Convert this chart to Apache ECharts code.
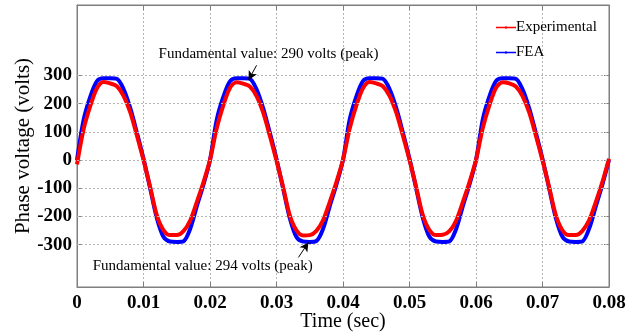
<!DOCTYPE html>
<html><head><meta charset="utf-8">
<script src="https://cdn.jsdelivr.net/npm/echarts@6/dist/echarts.min.js"></script>
<style>html,body{margin:0;padding:0;background:#fff}#c{width:640px;height:334px}</style>
</head><body><div id="c"></div>
<script>
const timeSec = [0,0.001,0.002,0.003,0.004,0.005,0.006,0.007,0.008,0.009,
0.010,0.011,0.012,0.013,0.014,0.015,0.016,0.017,0.018,0.019,
0.020,0.021,0.022,0.023,0.024,0.025,0.026,0.027,0.028,0.029,
0.030,0.031,0.032,0.033,0.034,0.035,0.036,0.037,0.038,0.039,
0.040,0.041,0.042,0.043,0.044,0.045,0.046,0.047,0.048,0.049,
0.050,0.051,0.052,0.053,0.054,0.055,0.056,0.057,0.058,0.059,
0.060,0.061,0.062,0.063,0.064,0.065,0.066,0.067,0.068,0.069,
0.070,0.071,0.072,0.073,0.074,0.075,0.076,0.077,0.078,0.079,0.080];
const experimental = [-15,110,192,255,277,272,262,228,170,88,
0,-95,-195,-248,-266,-266,-252,-215,-150,-80,
0,112,194,256,276,271,261,227,168,86,
-2,-96,-196,-249,-267,-266,-251,-214,-149,-79,
1,111,193,255,277,272,262,228,169,87,
0,-95,-195,-248,-266,-265,-252,-215,-150,-80,
0,112,193,256,276,272,261,227,169,87,
-1,-96,-195,-249,-266,-266,-251,-214,-150,-78,5];
const fea = [0,143,225,280,290,290,288,252,185,98,
5,-100,-205,-272,-289,-290,-288,-245,-165,-88,
0,142,224,279,290,290,288,251,184,97,
4,-101,-206,-273,-289,-290,-287,-244,-164,-87,
1,143,225,280,290,290,288,252,185,98,
5,-100,-205,-272,-289,-290,-288,-245,-165,-88,
0,142,225,280,290,290,288,251,184,97,
4,-100,-205,-272,-289,-290,-288,-244,-165,-87,0];
const yTicks = [-300,-200,-100,0,100,200,300];
const xTicks = [0,0.01,0.02,0.03,0.04,0.05,0.06,0.07,0.08];
const ann1 = {text:'Fundamental value: 290 volts (peak)', at:[0.0288,375], from:[0.0270,336], to:[0.0258,284]};
const ann2 = {text:'Fundamental value: 294 volts (peak)', at:[0.0189,-377], from:[0.0333,-345], to:[0.0348,-292]};

const serif = '"Liberation Serif","Times New Roman",serif';
const chart = echarts.init(document.getElementById('c'), null, {renderer:'canvas'});
const frame = '#7f7f7f';
const legendIcon = 'path://M0,3.6L40,3.6L40,6.4L0,6.4Z M20,2.4A2.6,2.6 0 1 1 19.99,2.4Z';
const tickStyle = {show:true,inside:true,length:5,lineStyle:{color:frame,width:1}};
const xBase = {
  type:'value', min:0, max:0.08, interval:0.01,
  axisLine:{show:true,onZero:false,lineStyle:{color:frame}}
};
const yBase = {
  type:'value', min:-450, max:550, interval:50,
  axisLine:{show:true,onZero:false,lineStyle:{color:frame}}
};
chart.setOption({
  animation:false,
  backgroundColor:'#fff',
  grid:{left:77,right:31,top:5,bottom:47,containLabel:false,outerBoundsMode:'none',
    show:true,borderColor:frame,borderWidth:1,backgroundColor:'transparent'},
  legend:{
    orient:'vertical', left:491, top:15, itemGap:10, itemWidth:20, itemHeight:5,
    textStyle:{fontFamily:serif,fontSize:15,color:'#000',padding:[0,0,0,-5]},
    data:[{name:'Experimental',icon:legendIcon},{name:'FEA',icon:legendIcon}]
  },
  xAxis:[Object.assign({}, xBase, {
    position:'bottom',
    name:'Time (sec)', nameLocation:'middle', nameGap:25, nameMoveOverlap:false,
    nameTextStyle:{fontFamily:serif,fontSize:20,color:'#000'},
    axisTick:Object.assign({customValues:xTicks},tickStyle),
    axisLabel:{fontFamily:serif,fontSize:19,fontWeight:'bold',color:'#000',margin:7,
      customValues:xTicks,formatter:v=>v===0?'0':String(+v.toFixed(2))},
    splitLine:{show:true,lineStyle:{color:'#b5b5b5',type:[2,2],width:1}}
  }), Object.assign({}, xBase, {
    position:'top',
    axisTick:Object.assign({customValues:xTicks},tickStyle),
    axisLabel:{show:false}, splitLine:{show:false}
  })],
  yAxis:[Object.assign({}, yBase, {
    position:'left',
    name:'Phase voltage (volts)', nameLocation:'middle', nameGap:43, nameMoveOverlap:false,
    nameTextStyle:{fontFamily:serif,fontSize:21,color:'#000'},
    axisTick:Object.assign({customValues:yTicks},tickStyle),
    axisLabel:{fontFamily:serif,fontSize:19,fontWeight:'bold',color:'#000',margin:5,customValues:yTicks},
    splitLine:{show:false}
  }), Object.assign({}, yBase, {
    position:'right',
    axisTick:Object.assign({customValues:yTicks},tickStyle),
    axisLabel:{show:false}, splitLine:{show:false}
  })],
  series:[
    {
      name:'Experimental', type:'line', color:'#ff0000',
      data:timeSec.map((t,i)=>[t,experimental[i]]),
      smooth:0.3, symbol:'circle', symbolSize:4, showSymbol:false,
      lineStyle:{width:4,color:'#ff0000'}, z:3,
      markLine:{
        silent:true, symbol:'none', label:{show:false},
        lineStyle:{color:'#b5b5b5',type:[2,2],width:1},
        data:yTicks.map(v=>({yAxis:v}))
      }
    },
    {
      name:'FEA', type:'line', color:'#0000ff',
      data:timeSec.map((t,i)=>[t,fea[i]]),
      smooth:0.3, symbol:'circle', symbolSize:4, showSymbol:false,
      lineStyle:{width:4,color:'#0000ff'}, z:2,
      markLine:{
        silent:true, symbol:['none','arrow'], symbolSize:[7,9], label:{show:false},
        lineStyle:{color:'#000',type:'solid',width:1},
        data:[[{coord:ann1.from},{coord:ann1.to}],[{coord:ann2.from},{coord:ann2.to}]]
      },
      markPoint:{
        silent:true, symbol:'rect', symbolSize:1, itemStyle:{color:'transparent'},
        label:{show:true,position:'inside',fontFamily:serif,fontSize:15,color:'#000'},
        data:[
          {coord:ann1.at,label:{formatter:ann1.text}},
          {coord:ann2.at,label:{formatter:ann2.text}}
        ]
      }
    }
  ]
});
</script>
</body></html>
